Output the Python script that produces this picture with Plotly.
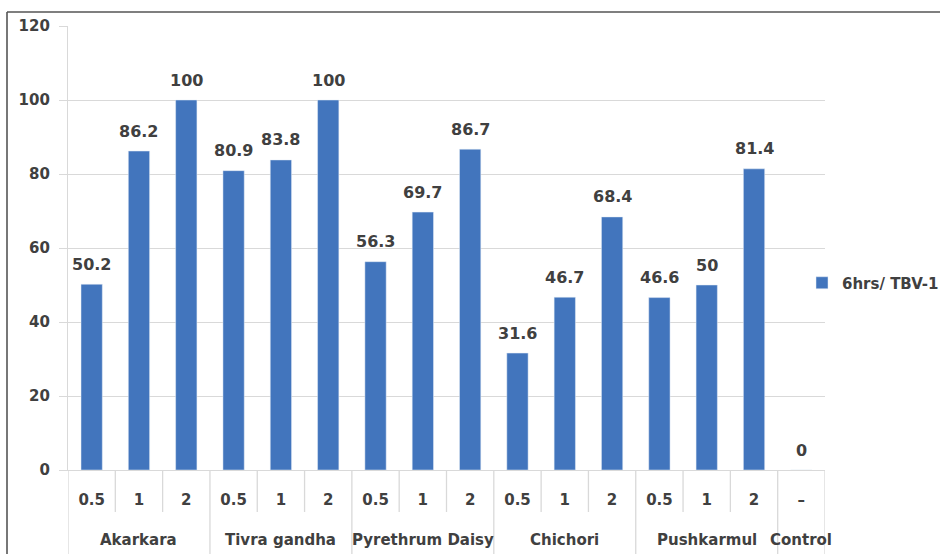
import plotly.graph_objects as go

# Treatment groups and the dose (%) tested within each group
groups = ["Akarkara", "Tivra gandha", "Pyrethrum Daisy", "Chichori", "Pushkarmul", "Control"]
doses = [["0.5", "1", "2"], ["0.5", "1", "2"], ["0.5", "1", "2"],
         ["0.5", "1", "2"], ["0.5", "1", "2"], ["–"]]
# Mortality after 6 hrs for TBV-1, one value per dose
mortality = [50.2, 86.2, 100, 80.9, 83.8, 100, 56.3, 69.7, 86.7,
             31.6, 46.7, 68.4, 46.6, 50, 81.4, 0]
series_name = "6hrs/ TBV-1"
y_ticks = [0, 20, 40, 60, 80, 100, 120]

BAR = "#4275BD"
TEXT = "#404040"
GRID = "#D9D9D9"
FONT = "DejaVu Sans"

# flatten categories into ordinal positions along the x axis
dose_labels = [d for g in doses for d in g]
pos = list(range(len(dose_labels)))
group_start = []
i = 0
for g in doses:
    group_start.append(i)
    i += len(g)

fig = go.Figure()
fig.add_trace(go.Bar(
    x=pos, y=mortality, name=series_name, marker_color=BAR,
    width=0.45, showlegend=True,
))

annotations = []
# value labels above every bar
for p, v in zip(pos, mortality):
    annotations.append(dict(
        x=p, y=v, xref="x", yref="y", text=f"<b>{v:g}</b>", showarrow=False,
        yshift=20, font=dict(family=FONT, size=16, color=TEXT),
    ))

# group labels under the dose row
L, R, T, B = 68, 115, 26, 84
W, H = 940 - L - R, 554 - T - B
for gi, (name, g) in enumerate(zip(groups, doses)):
    start = group_start[gi]
    center = start + (len(g) - 1) / 2
    annotations.append(dict(
        x=center, y=-70 / H, xref="x", yref="paper", text=f"<b>{name}</b>",
        showarrow=False, yanchor="middle",
        font=dict(family=FONT, size=15, color=TEXT),
    ))

shapes = []
# divider lines between doses and between groups
for k in range(len(pos) + 1):
    b = k - 0.5
    is_group = (k in group_start) or k == len(pos)
    shapes.append(dict(
        type="line", xref="x", yref="paper", x0=b, x1=b, y0=0,
        y1=-90 / H if is_group else -42 / H,
        line=dict(color=GRID, width=1.3), layer="below",
    ))
# chart frame (top and left edges)
fx0 = (7 - L) / W
fy0 = (554 - B - 12) / H
shapes.append(dict(type="line", xref="paper", yref="paper", x0=fx0, x1=(960 - L) / W,
                   y0=fy0, y1=fy0, line=dict(color="#555555", width=1.6)))
shapes.append(dict(type="line", xref="paper", yref="paper", x0=fx0, x1=fx0,
                   y0=fy0, y1=-100 / H, line=dict(color="#555555", width=1.6)))

fig.update_layout(
    width=940, height=554,
    margin=dict(l=L, r=R, t=T, b=B, pad=0, autoexpand=False),
    paper_bgcolor="white", plot_bgcolor="white",
    font=dict(family=FONT, color=TEXT),
    bargap=0.55,
    annotations=annotations,
    shapes=shapes,
    legend=dict(
        x=(802 - L) / W, xanchor="left", y=(470 - 283) / H, yanchor="middle",
        font=dict(family=FONT, size=15, color=TEXT, weight="bold"),
        bgcolor="rgba(0,0,0,0)", itemwidth=30,
    ),
    xaxis=dict(
        range=[-0.5, len(pos) - 0.5], tickmode="array", tickvals=pos,
        ticktext=[f"<b>{d}</b>" for d in dose_labels],
        showgrid=False, zeroline=False, showline=True, linecolor=GRID, linewidth=1.3,
        ticks="", ticklabelstandoff=16,
        tickfont=dict(family=FONT, size=15, color=TEXT),
        fixedrange=True,
    ),
    yaxis=dict(
        range=[0, 120], tickmode="array", tickvals=y_ticks,
        ticktext=[f"<b>{t}</b>" for t in y_ticks],
        showgrid=True, gridcolor=GRID, gridwidth=1.3, zeroline=False,
        showline=True, linecolor=GRID, linewidth=1.3,
        ticks="outside", ticklen=8, tickcolor=GRID, tickwidth=1.3,
        ticklabelstandoff=6,
        tickfont=dict(family=FONT, size=15, color=TEXT),
        fixedrange=True,
    ),
)

fig.write_html("out.html")
